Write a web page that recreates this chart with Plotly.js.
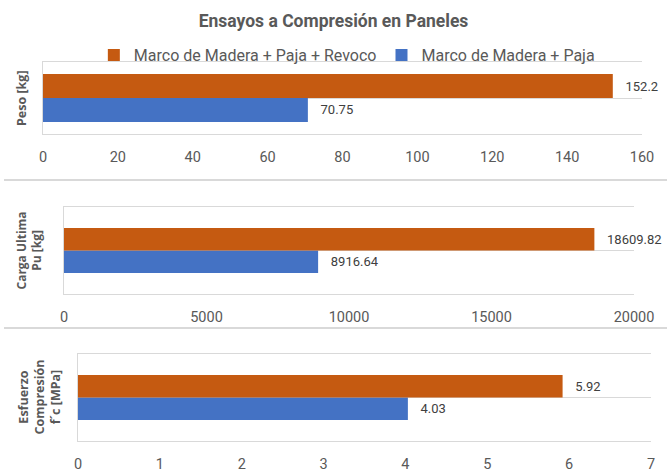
<!DOCTYPE html>
<html>
<head>
<meta charset="utf-8">
<script src="https://cdn.plot.ly/plotly-3.0.1.min.js"></script>
<style>
  html, body { margin: 0; padding: 0; background: #ffffff; }
  #chart { width: 667px; height: 472px; }
</style>
</head>
<body>
<div id="chart"></div>
<script>
// Panel categories (one measured property per panel)
const categories = ['Peso [kg]', 'Carga Ultima<br>Pu [kg]', 'Esfuerzo<br>Compresión<br>f´c [MPa]'];
// Series
const seriesNames = ['Marco de Madera + Paja + Revoco', 'Marco de Madera + Paja'];
const conRevoco = [152.2, 18609.82, 5.92];
const sinRevoco = [70.75, 8916.64, 4.03];
// Value axis ticks for each panel
const xTicks = [
  [0, 20, 40, 60, 80, 100, 120, 140, 160],
  [0, 5000, 10000, 15000, 20000],
  [0, 1, 2, 3, 4, 5, 6, 7]
];

const W = 667, H = 472;
const ORANGE = '#C55A11', BLUE = '#4472C4';
const GRID = '#d9d9d9', TXT = '#595959';
const NARROW = "'Liberation Sans Narrow', 'Arial Narrow', 'Roboto', sans-serif";
const WIDE = "'Open Sans', 'Noto Sans', sans-serif";

// plot-area boxes in pixels, bar thickness (share of band), category label placement
const boxes = [
  { l: 43, r: 642, t: 62,  b: 134, bw: 0.333, lab: 21, labSize: 12.5 },
  { l: 64, r: 634, t: 207, b: 294, bw: 0.26,  lab: 29, labSize: 12 },
  { l: 78, r: 651, t: 354, b: 441, bw: 0.26,  lab: 39, labSize: 12.5 }
];
const fx = px => px / W;
const fy = px => 1 - px / H;
const pad = '\u00a0\u00a0\u00a0';

const traces = [];
const layout = {
  width: W, height: H,
  margin: { l: 0, r: 0, t: 0, b: 0 },
  paper_bgcolor: '#ffffff', plot_bgcolor: '#ffffff',
  font: { family: NARROW, color: TXT, size: 14 },
  title: {
    text: 'Ensayos a Compresión en Paneles',
    x: 0.5, xanchor: 'center', y: fy(21), yanchor: 'middle',
    font: { family: NARROW, size: 17.5, color: TXT, weight: 700 }
  },
  showlegend: true,
  legend: {
    orientation: 'h', traceorder: 'reversed',
    x: 0.52, xanchor: 'center', y: fy(55), yanchor: 'middle',
    font: { family: NARROW, size: 16, color: TXT },
    bgcolor: 'rgba(0,0,0,0)'
  },
  annotations: [],
  shapes: []
};

boxes.forEach((bx, i) => {
  const sfx = i === 0 ? '' : String(i + 1);
  const xa = 'x' + sfx, ya = 'y' + sfx;

  // blue series first so the reversed legend lists orange first
  traces.push({
    type: 'bar', orientation: 'h', name: seriesNames[1], legendgroup: 'b',
    showlegend: i === 0,
    x: [sinRevoco[i]], y: [categories[i]], xaxis: xa, yaxis: ya,
    width: bx.bw, offset: -bx.bw,
    marker: { color: BLUE },
    text: [pad + String(sinRevoco[i])], textposition: 'outside',
    textfont: { family: NARROW, size: 13, color: '#404040' },
    cliponaxis: false, constraintext: 'none', hoverinfo: 'x+name'
  });
  traces.push({
    type: 'bar', orientation: 'h', name: seriesNames[0], legendgroup: 'a',
    showlegend: i === 0,
    x: [conRevoco[i]], y: [categories[i]], xaxis: xa, yaxis: ya,
    width: bx.bw, offset: 0,
    marker: { color: ORANGE },
    text: [pad + String(conRevoco[i])], textposition: 'outside',
    textfont: { family: NARROW, size: 13, color: '#404040' },
    cliponaxis: false, constraintext: 'none', hoverinfo: 'x+name'
  });

  const t = xTicks[i];
  layout['xaxis' + sfx] = {
    anchor: ya, domain: [fx(bx.l), fx(bx.r)],
    range: [t[0], t[t.length - 1]],
    tickvals: t, ticktext: t.map(String),
    showgrid: false, zeroline: false,
    showline: true, linecolor: GRID, linewidth: 1, mirror: true,
    ticks: 'outside', ticklen: 10, tickcolor: 'rgba(0,0,0,0)',
    tickfont: { family: NARROW, size: 14.5, color: TXT }
  };
  layout['yaxis' + sfx] = {
    anchor: xa, domain: [fy(bx.b), fy(bx.t)],
    type: 'category', range: [-0.5, 0.5],
    showticklabels: false, ticks: '',
    showgrid: true, gridcolor: GRID, gridwidth: 1,
    showline: true, linecolor: GRID, linewidth: 1, zeroline: false
  };

  // category name on the left, rotated
  layout.annotations.push({
    xref: 'paper', yref: 'paper', x: fx(bx.lab), y: fy((bx.t + bx.b) / 2),
    xanchor: 'center', yanchor: 'middle', textangle: -90, showarrow: false,
    text: categories[i],
    font: { family: WIDE, size: bx.labSize, color: TXT, weight: 700 }
  });
});

// borders between the stacked panels
[180, 328].forEach(py => {
  layout.shapes.push({
    type: 'line', xref: 'paper', yref: 'paper',
    x0: fx(4), x1: 1, y0: fy(py), y1: fy(py),
    line: { color: '#d9d9d9', width: 2 }
  });
});

Plotly.newPlot('chart', traces, layout, { displayModeBar: false, staticPlot: true });
</script>
</body>
</html>
